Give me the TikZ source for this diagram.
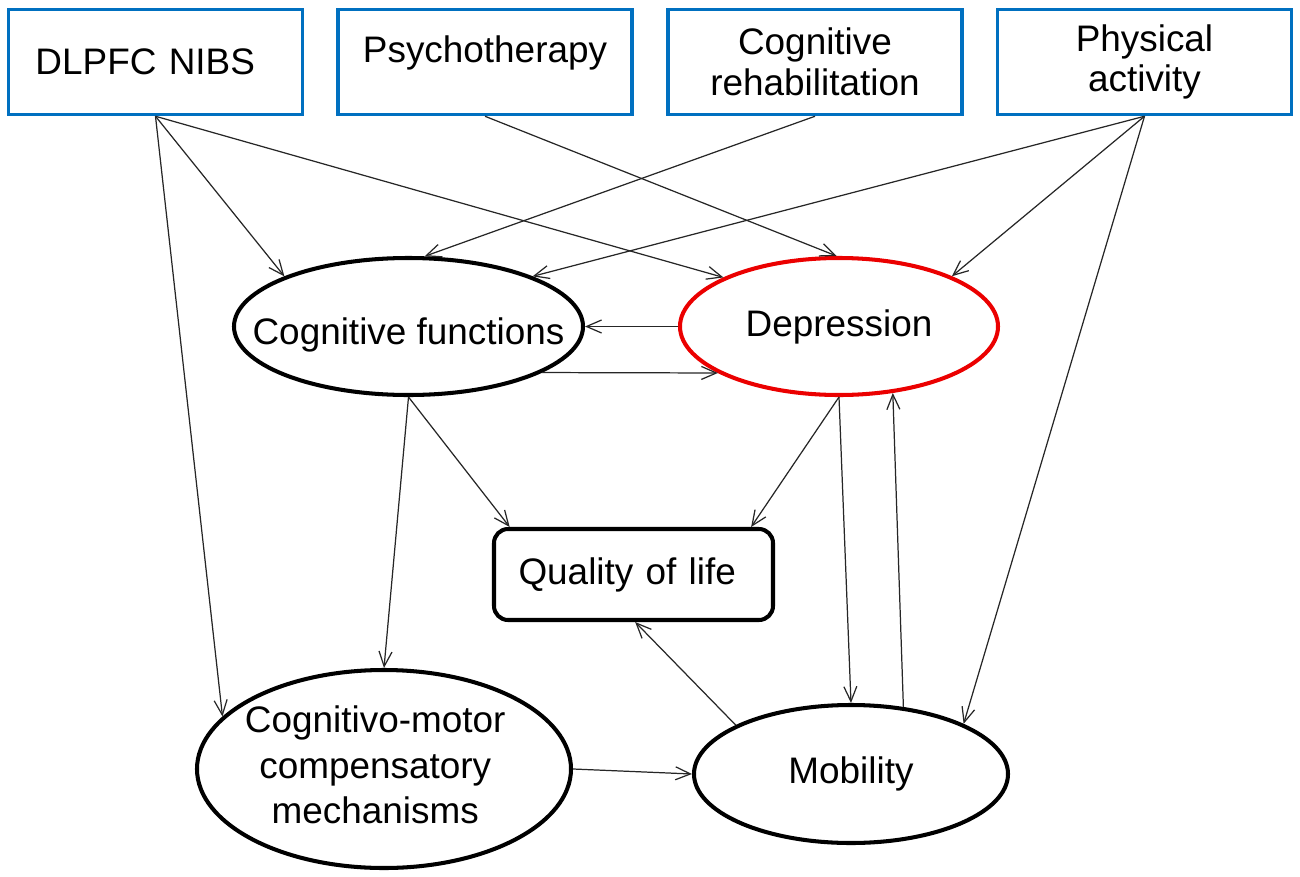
\documentclass[tikz,border=0pt]{standalone}
\usepackage{fontspec}
\setmainfont{Liberation Sans}
\usetikzlibrary{arrows.meta,positioning,shapes.geometric}
\definecolor{boxblue}{RGB}{0,112,192}
\definecolor{deprred}{RGB}{235,0,0}
\newcommand{\zerowide}[1]{\makebox[0pt]{#1}}

\begin{document}
\begin{tikzpicture}[x=0.2mm, y=-0.2mm,
  font=\fontsize{21}{26}\selectfont,
  therapy/.style={draw=boxblue, line width=2pt, minimum width=5.88cm,
    minimum height=2.1cm, align=center, font=\fontsize{21}{23}\selectfont},
  outcome/.style={ellipse, draw, line width=2.3pt, inner sep=0pt},
  effect/.style={-{Straight Barb[length=3mm,width=2.6mm]}, line width=0.7pt, black!85}]
  \useasboundingbox (0,0) rectangle (1300,877);

  % Interventions (top row)
  \node[therapy, text width=4.8cm, align=left] (nibs) at (155.5,62) {DLPFC NIBS};
  \node[therapy, text height=15pt, text depth=14pt] (psych) at (485,62) {Psychotherapy};
  \node[therapy] (rehab) at (815,62) {Cognitive\\rehabilitation};
  \node[therapy] (activ) at (1144.5,62) {Physical\\activity};

  % Outcomes
  \node[outcome, text height=28pt, text depth=8pt, minimum width=6.98cm, minimum height=2.74cm]
    (cogf) at (408.5,326.5) {\zerowide{Cognitive functions}};
  \node[outcome, draw=deprred, minimum width=6.36cm, minimum height=2.74cm] (depr) at (839,326.5)
    {\zerowide{Depression}};
  \node[draw, rounded corners=8pt, line width=2.3pt, minimum width=5.58cm, minimum height=1.82cm,
    text width=4.6cm, align=left] (qol) at (633.5,574.5) {Quality of life};
  \node[outcome, minimum width=7.48cm, minimum height=3.96cm] (comp) at (384,769)
    {\zerowide{\hspace{-10pt}\begin{tabular}{@{}c@{}}Cognitivo-motor\\compensatory\\mechanisms\end{tabular}}};
  \node[outcome, minimum width=6.28cm, minimum height=2.76cm] (mobil) at (851,774)
    {\zerowide{Mobility}};

  % Effects of the interventions
  \draw[effect] (nibs.south) -- (cogf.158);
  \draw[effect] (nibs.south) -- (depr.157);
  \draw[effect] (nibs.south) -- (comp.162);
  \draw[effect] (psych.south) -- (depr.92);
  \draw[effect] (rehab.south) -- (cogf.77);
  \draw[effect] (activ.south) -- (cogf.22);
  \draw[effect] (activ.south) -- (depr.24);
  \draw[effect] (activ.south) -- (mobil.24);

  % Links between outcomes
  \draw[effect] (depr.west) -- (cogf.east);
  \draw[effect] (cogf.-19) -- (depr.201);
  \draw[effect] (cogf.south) -- (qol.159);
  \draw[effect] (cogf.south) -- (comp.north);
  \draw[effect] (depr.south) -- (qol.22);
  \draw[effect] (depr.south) -- (mobil.north);
  \draw[effect] (mobil.52) -- (depr.-51);
  \draw[effect] (mobil.157) -- (qol.-88);
  \draw[effect] (comp.east) -- (mobil.west);
\end{tikzpicture}
\end{document}
